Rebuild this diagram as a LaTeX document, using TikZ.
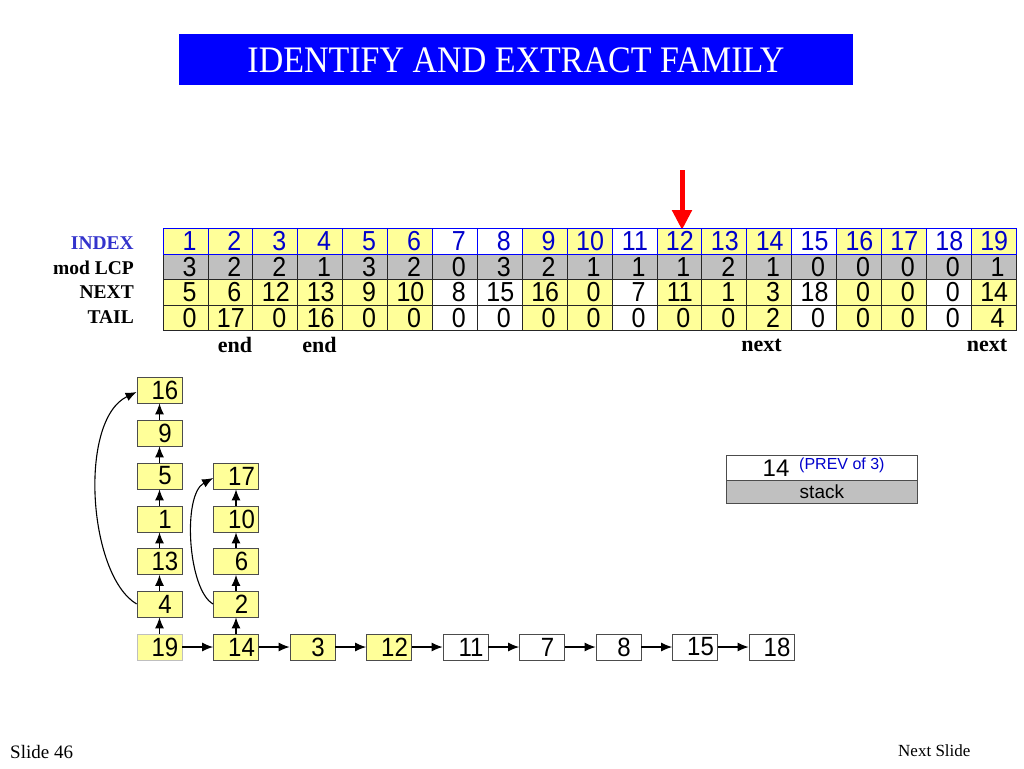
\documentclass[tikz,border=0pt]{standalone}
\usepackage{fontspec}
\setmainfont{Liberation Serif}
\newfontfamily\hv{Liberation Sans}
\usetikzlibrary{arrows.meta}
\definecolor{ylw}{HTML}{FFFF99}
\definecolor{gry}{HTML}{C0C0C0}
\definecolor{ttlblue}{HTML}{0000FF}
\definecolor{idxblue}{HTML}{0000CC}
\definecolor{lblblue}{HTML}{3333CC}
\newcommand\celldg[1]{\scalebox{1}[1.1]{\ifnum#1>9\hspace*{1pt}\else\hspace*{8pt}\fi#1}}
\newcommand\boxdg[1]{\scalebox{1}[1.1]{\hspace*{11pt}#1}}
\tikzset{
  cell/.style={draw=black!85, line width=0.8pt, minimum width=44.9pt, minimum height=25.5pt,
    inner sep=0pt, font=\hv\fontsize{25}{25}\selectfont},
  idxcell/.style={cell, draw=ttlblue, text=idxblue},
  rowlbl/.style={anchor=east, inner sep=0pt, font=\bfseries\fontsize{19.5}{20}\selectfont},
  endlbl/.style={inner sep=0pt, font=\bfseries\fontsize{22}{22}\selectfont},
  sbox/.style={draw=black!70, line width=0.8pt, fill=ylw, minimum width=45pt, minimum height=26pt,
    inner sep=0pt, font=\hv\fontsize{24}{24}\selectfont},
  wbox/.style={sbox, fill=white},
  arr/.style={-{Latex[length=11pt,width=9pt]}, line width=1.1pt},
}
\begin{document}
\begin{tikzpicture}[x=1pt,y=-1pt]
\useasboundingbox (0,0) rectangle (1024,768);
\fill[white] (0,0) rectangle (1024,768);
% title
\node[fill=ttlblue, minimum width=674pt, minimum height=51pt, inner sep=0pt, anchor=north west] (title) at (179,34) {};
\node[text=white, font=\fontsize{34}{34}\selectfont, inner sep=0pt] (ttxt) at (516,60) {\scalebox{1}[1.1]{IDENTIFY AND EXTRACT FAMILY}};
% red arrow
\coordinate (rtop) at (682,170);
\coordinate (rtip) at (682,230);
\draw[red, line width=5pt, -{Triangle[length=20pt,width=19pt]}] (rtop) -- (rtip);
% table
\foreach \i/\c/\l/\n/\t in {1/ylw/3/5/0, 2/ylw/2/6/17, 3/ylw/2/12/0, 4/ylw/1/13/16, 5/ylw/3/9/0,
  6/ylw/2/10/0, 7/white/0/8/0, 8/white/3/15/0, 9/ylw/2/16/0, 10/ylw/1/0/0, 11/white/1/7/0,
  12/ylw/1/11/0, 13/ylw/2/1/0, 14/ylw/1/3/2, 15/white/0/18/0, 16/ylw/0/0/0, 17/ylw/0/0/0,
  18/white/0/0/0, 19/ylw/1/14/4} {
  \pgfmathsetmacro\cx{163+(\i-0.5)*44.9}
  \node[cell, fill=gry] (l\i) at (\cx,266.75) {\celldg{\l}};
  \node[cell, fill=\c] (n\i) at (\cx,292.25) {\celldg{\n}};
  \node[cell, fill=\c] (t\i) at (\cx,317.75) {\celldg{\t}};
  \node[idxcell, fill=\c] (x\i) at (\cx,241.25) {\celldg{\i}};
}
\node[rowlbl, text=lblblue] (lbidx) at (134,243) {INDEX};
\node[rowlbl] (lblcp) at (134,268) {mod LCP};
\node[rowlbl] (lbnext) at (134,292.5) {NEXT};
\node[rowlbl] (lbtail) at (134,317.5) {TAIL};
\node[endlbl] (end1) at (235,345) {end};
\node[endlbl] (end2) at (319.5,345) {end};
\node[endlbl] (nx1) at (761.5,345) {next};
\node[endlbl] (nx2) at (987,345) {next};
% stacks
\node[sbox] (s16) at (159.5,390) {\boxdg{16}};
\node[sbox] (s9) at (159.5,433) {\boxdg{9}};
\node[sbox] (s5) at (159.5,476) {\boxdg{5}};
\node[sbox] (s1) at (159.5,519) {\boxdg{1}};
\node[sbox] (s13) at (159.5,561.5) {\boxdg{13}};
\node[sbox] (s4) at (159.5,604) {\boxdg{4}};
\node[sbox, draw=black!25] (b19) at (159.5,647) {\boxdg{19}};
\node[sbox] (s17) at (236,476) {\boxdg{17}};
\node[sbox] (s10) at (236,519) {\boxdg{10}};
\node[sbox] (s6) at (236,561.5) {\boxdg{6}};
\node[sbox] (s2) at (236,604) {\boxdg{2}};
\node[sbox] (b14) at (236,647) {\boxdg{14}};
\node[sbox] (b3) at (312.5,647) {\boxdg{3}};
\node[sbox] (b12) at (389,647) {\boxdg{12}};
\node[wbox] (b11) at (465.5,647) {\boxdg{11}};
\node[wbox] (b7) at (542,647) {\boxdg{7}};
\node[wbox] (b8) at (618.5,647) {\boxdg{8}};
\node[wbox] (b15) at (695,647) {\boxdg{15}};
\node[wbox] (b18) at (771.5,647) {\boxdg{18}};
\draw[arr] (b19) -- (s4);
\draw[arr] (s4) -- (s13);
\draw[arr] (s13) -- (s1);
\draw[arr] (s1) -- (s5);
\draw[arr] (s5) -- (s9);
\draw[arr] (s9) -- (s16);
\draw[arr] (b14) -- (s2);
\draw[arr] (s2) -- (s6);
\draw[arr] (s6) -- (s10);
\draw[arr] (s10) -- (s17);
\draw[arr] (b19) -- (b14);
\draw[arr] (b14) -- (b3);
\draw[arr] (b3) -- (b12);
\draw[arr] (b12) -- (b11);
\draw[arr] (b11) -- (b7);
\draw[arr] (b7) -- (b8);
\draw[arr] (b8) -- (b15);
\draw[arr] (b15) -- (b18);
\draw[arr] (s4.west) .. controls (88,575) and (78,420) .. ([yshift=-2pt]s16.west);
\draw[arr] (s2.west) .. controls (188,590) and (182,495) .. ([yshift=-2pt]s17.west);
% stack box
\node[draw=black!70, line width=0.8pt, fill=white, minimum width=191pt, minimum height=25pt, inner sep=0pt, anchor=north west] (stk) at (726,455) {};
\node[draw=black!70, line width=0.8pt, fill=gry, minimum width=191pt, minimum height=23pt, inner sep=0pt, anchor=north west, font=\hv\fontsize{19}{19}\selectfont] (stklbl) at (726,480) {stack};
\node[font=\hv\fontsize{24}{24}\selectfont, inner sep=0pt] (stk14) at (776,468) {14};
\node[font=\hv\fontsize{16}{16}\selectfont, text=idxblue, inner sep=0pt, anchor=west] (stkprev) at (799,465) {(PREV of 3)};
% footer
\node[font=\fontsize{19}{19}\selectfont, inner sep=0pt, anchor=base west] (slide) at (10,758) {Slide 46};
\node[font=\fontsize{17}{17}\selectfont, inner sep=0pt, anchor=base west] (nextslide) at (898,756) {Next Slide};
\end{tikzpicture}
\end{document}
